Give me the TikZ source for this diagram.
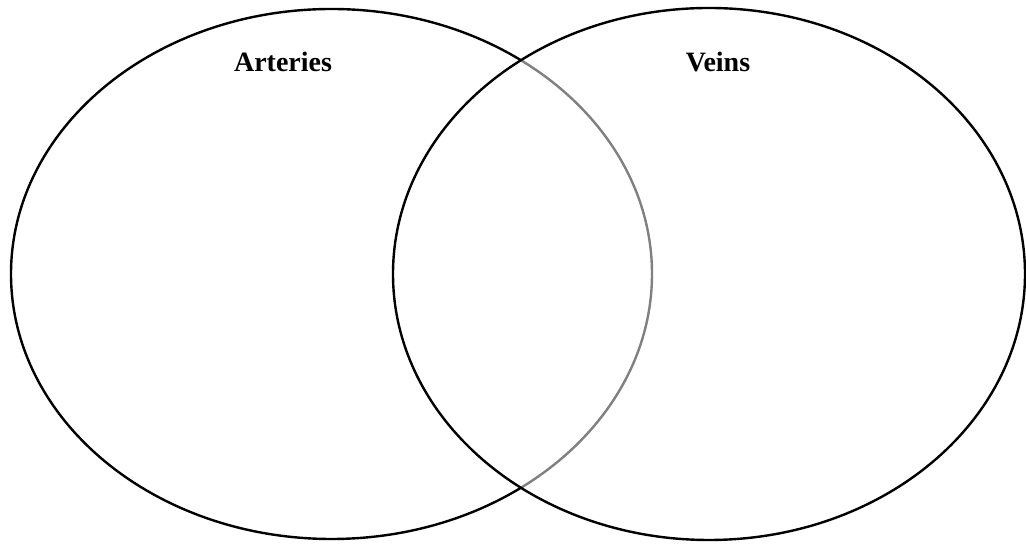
\documentclass[tikz,border=0pt]{standalone}
\usepackage{fontspec}
\setmainfont{Liberation Serif}
\usetikzlibrary{shapes.geometric}
\begin{document}
\begin{tikzpicture}[x=1pt,y=1pt,
  venn/.style={ellipse, draw=black, line width=2.4pt, inner sep=0pt},
  lbl/.style={font=\fontsize{28}{32}\selectfont\bfseries, anchor=base, inner sep=0pt}]
\useasboundingbox (0,0) rectangle (1026,545);
\node[venn, minimum width=641pt, minimum height=530pt] (arteries) at (331.5,271) {};
\node[venn, fill=white, fill opacity=0.5, draw opacity=1, minimum width=632pt, minimum height=532pt] (veins) at (709,271) {};
\node[lbl] (ta) at (283,473) {Arteries};
\node[lbl] (tv) at (718,473) {Veins};
\end{tikzpicture}
\end{document}
